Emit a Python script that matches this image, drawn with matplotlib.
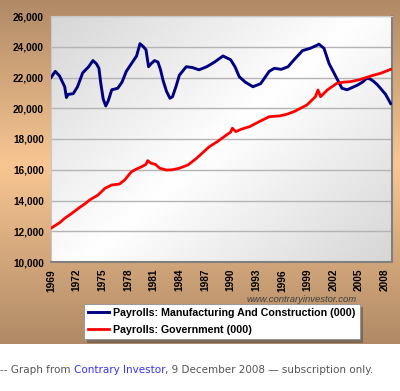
import matplotlib
matplotlib.use("Agg")
import matplotlib.pyplot as plt
import numpy as np
from matplotlib.colors import LinearSegmentedColormap

plt.rcParams["font.family"] = ["Liberation Sans", "DejaVu Sans"]

# Payrolls: Manufacturing And Construction (000) - decimal year, value
mfg_years = [1969.0, 1969.5, 1970.0, 1970.6, 1970.8, 1971.0, 1971.6, 1972.1, 1972.7,
             1973.4, 1973.9, 1974.3, 1974.6, 1974.8, 1975.1, 1975.4, 1975.7, 1976.1,
             1976.8, 1977.3, 1977.8, 1978.4, 1979.0, 1979.4, 1979.8, 1980.1, 1980.4,
             1980.7, 1981.1, 1981.5, 1981.8, 1982.1, 1982.5, 1982.9, 1983.2, 1983.6,
             1984.0, 1984.8, 1985.5, 1986.3, 1987.2, 1988.1, 1989.1, 1990.0, 1990.5,
             1991.0, 1991.7, 1992.6, 1993.5, 1994.5, 1995.1, 1995.9, 1996.7, 1997.4,
             1998.4, 1999.3, 2000.1, 2000.3, 2000.9, 2001.5, 2002.3, 2003.0, 2003.6,
             2004.2, 2004.8, 2005.4, 2005.9, 2006.3, 2006.7, 2007.1, 2007.5, 2008.1,
             2008.7]
mfg_values = [22000, 22400, 22100, 21400, 20700, 20900, 20950, 21400, 22300,
              22700, 23100, 22900, 22600, 21700, 20600, 20150, 20500, 21200,
              21300, 21700, 22400, 22900, 23400, 24200, 24000, 23800, 22700,
              22900, 23100, 23000, 22500, 21800, 21100, 20650, 20750, 21400,
              22150, 22700, 22650, 22500, 22700, 23000, 23400, 23150, 22700,
              22050, 21700, 21400, 21600, 22400, 22600, 22530, 22700, 23150,
              23750, 23900, 24100, 24170, 23900, 22900, 22050, 21300, 21200,
              21350, 21500, 21700, 21950, 21900, 21750, 21550, 21300, 20900,
              20300]

# Payrolls: Government (000)
gov_years = [1969.0, 1970.0, 1970.6, 1971.4, 1972.2, 1973.0, 1973.5, 1974.5, 1975.3,
             1976.1, 1977.0, 1977.6, 1978.4, 1979.0, 1979.6, 1980.1, 1980.3, 1980.7,
             1981.2, 1981.7, 1982.5, 1983.2, 1984.0, 1985.0, 1986.0, 1987.5, 1988.5,
             1989.5, 1990.0, 1990.2, 1990.6, 1991.3, 1992.2, 1993.3, 1994.5, 1995.7,
             1996.5, 1997.4, 1998.9, 1999.9, 2000.2, 2000.5, 2001.3, 2002.4, 2003.2,
             2004.0, 2005.0, 2005.9, 2006.7, 2007.5, 2008.1, 2008.7]
gov_values = [12200, 12550, 12840, 13150, 13490, 13800, 14030, 14360, 14790,
              15010, 15070, 15330, 15870, 16050, 16200, 16350, 16590, 16420,
              16350, 16100, 15980, 16000, 16100, 16310, 16740, 17500, 17850,
              18260, 18450, 18700, 18480, 18650, 18800, 19120, 19450, 19500,
              19600, 19780, 20210, 20750, 21190, 20750, 21190, 21620, 21700,
              21730, 21850, 22010, 22150, 22270, 22400, 22530]

x_ticks = list(range(1969, 2009, 3))
y_ticks = list(range(10000, 26001, 2000))

W, H = 400, 391
fig = plt.figure(figsize=(W / 100, H / 100), dpi=100)
fig.patch.set_facecolor("white")

# brown/peach gradient panel behind the chart
bg_top = 1 - 344 / H
bg = fig.add_axes([0, bg_top, 1, 1 - bg_top], zorder=-5)
brown = LinearSegmentedColormap.from_list(
    "brown", [(0, "#b08a66"), (0.48, "#f8c692"), (1, "#b08a66")])
bg.imshow(np.linspace(0, 1, 256)[:, None], aspect="auto", cmap=brown,
          extent=[0, 1, 0, 1], origin="upper")
bg.axis("off")

ax = fig.add_axes([51 / W, 1 - 262 / H, 341 / W, 246 / H])
ax.set_facecolor("none")

# plot area: soft gray-white gradient
gx, gy = np.meshgrid(np.linspace(-1, 1, 200), np.linspace(-1, 1, 200))
shade = np.clip(np.abs(gx * 0.55 + gy * 0.45), 0, 1)
gray = LinearSegmentedColormap.from_list("gr", ["#ffffff", "#d6d6d6"])
ax.imshow(shade, cmap=gray, aspect="auto", extent=[0, 1, 0, 1],
          transform=ax.transAxes, zorder=0)

for v in y_ticks:
    ax.axhline(v, color="#b4b4b4", lw=1.0, zorder=1)

ax.plot(mfg_years, mfg_values, color="#000080", lw=2.1, zorder=3,
        label="Payrolls: Manufacturing And Construction (000)")
ax.plot(gov_years, gov_values, color="#ff0000", lw=2.0, zorder=3,
        label="Payrolls: Government (000)")

ax.set_xlim(1969, 2008.85)
ax.set_ylim(10000, 26000)
ax.set_yticks(y_ticks)
ax.set_yticklabels([f"{v:,}" for v in y_ticks], fontweight="bold", fontsize=7.2)
ax.set_xticks(x_ticks)
ax.set_xticklabels([str(y) for y in x_ticks], rotation=90,
                   fontweight="bold", fontsize=7.3)
ax.tick_params(axis="y", length=0, pad=5)
ax.tick_params(axis="x", length=0, pad=5)
for side in ["top", "left"]:
    ax.spines[side].set_color("#c8c8c8")
for side in ["right", "bottom"]:
    ax.spines[side].set_color("#808080")
    ax.spines[side].set_linewidth(1.5)

fig.text(357 / W, 1 - 300 / H, "www.contraryinvestor.com", ha="right",
         va="center", fontsize=6.8, style="italic", color="#404040")

leg = fig.legend(loc="upper left", bbox_to_anchor=(84 / W, 1 - 304 / H),
                 frameon=True, fancybox=False, shadow=True, framealpha=1,
                 edgecolor="#909090", handlelength=2.0, handletextpad=0.4,
                 borderpad=0.35, labelspacing=0.7, borderaxespad=0,
                 prop={"weight": "bold", "size": 7.7})
leg.get_frame().set_linewidth(0.6)

# caption below the chart, pieced together
parts = [("-- Graph from ", "#555555"), ("Contrary Investor", "#3333ff"),
         (", 9 December 2008 \u2014 subscription only.", "#555555")]
fig.canvas.draw()
renderer = fig.canvas.get_renderer()
xpos = 0.0
for txt, col in parts:
    t = fig.text(xpos / W, 1 - 370 / H, txt, color=col, fontsize=7.5,
                 family="DejaVu Sans", va="center", ha="left")
    xpos += t.get_window_extent(renderer).width

fig.savefig("out.png", dpi=100)
